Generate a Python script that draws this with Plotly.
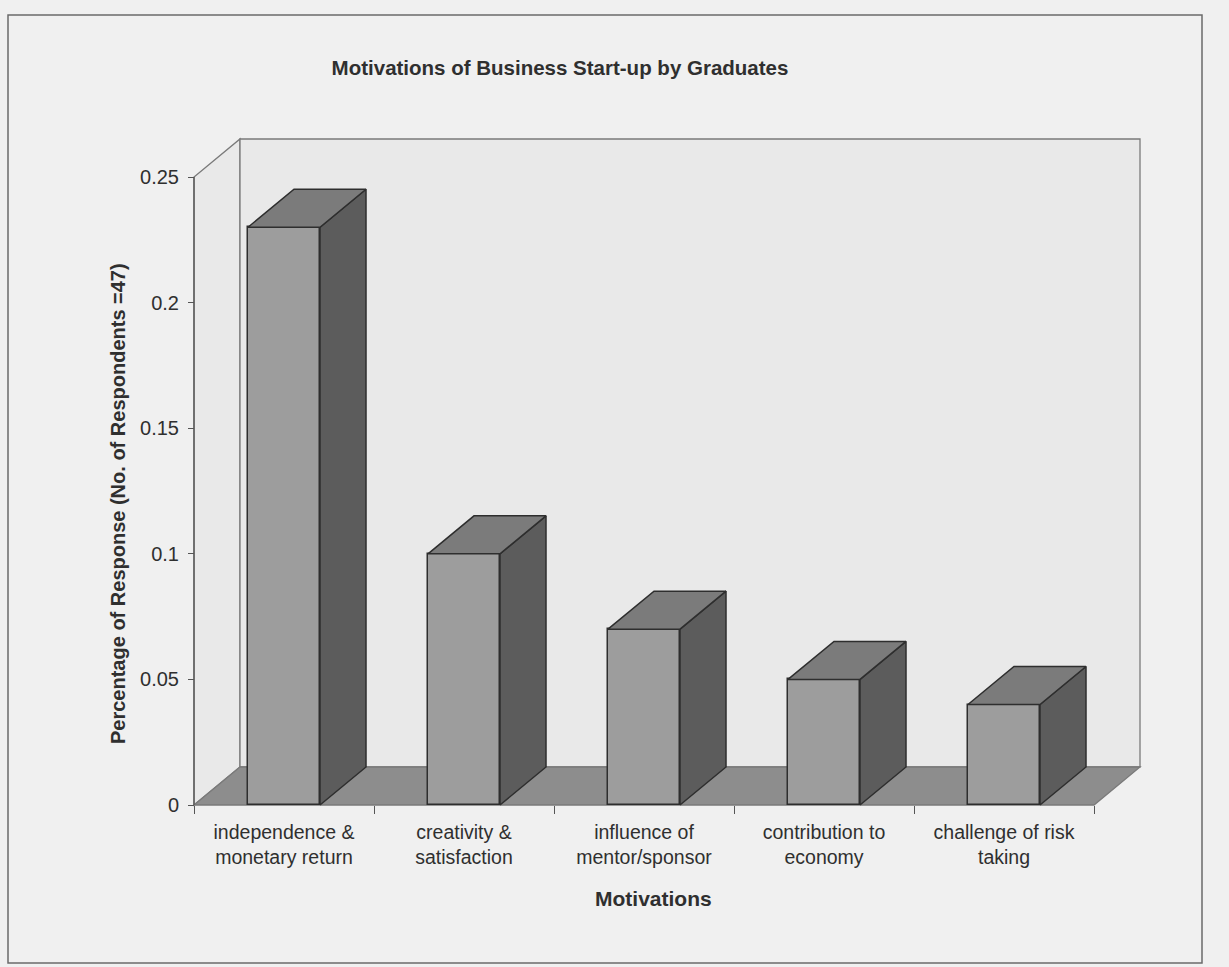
import plotly.graph_objects as go

# ---------------- data ----------------
categories = [
    "independence &<br>monetary return",
    "creativity &<br>satisfaction",
    "influence of<br>mentor/sponsor",
    "contribution to<br>economy",
    "challenge of risk<br>taking",
]
values = [0.23, 0.10, 0.07, 0.05, 0.04]
y_tickvals = [0, 0.05, 0.1, 0.15, 0.2, 0.25]
y_ticktext = ["0", "0.05", "0.1", "0.15", "0.2", "0.25"]

title_text = "Motivations of Business Start-up by Graduates"
x_title = "Motivations"
y_title = "Percentage of Response (No. of Respondents =47)"

# ---------------- geometry (pixels) ----------------
W_PX, H_PX = 1229, 967
L, R, T, B = 170, 1170, 110, 820      # plot area
PX_PER_CAT = 180.0
PX_PER_UNIT = 2512.0
X0_PX = 194                           # pixel of front-left corner
Y0_PX = 805                           # pixel of value 0 (front)
DEPTH_PX_X, DEPTH_PX_Y = 46.0, 38.0
BAR_W = 0.4

n = len(values)
x_min = -0.5 - (X0_PX - L) / PX_PER_CAT
x_max = x_min + (R - L) / PX_PER_CAT
y_min = -(B - Y0_PX) / PX_PER_UNIT
y_max = y_min + (B - T) / PX_PER_UNIT
DX = DEPTH_PX_X / PX_PER_CAT
DY = DEPTH_PX_Y / PX_PER_UNIT

def px2paper_x(px):
    return (px - L) / (R - L)

def px2paper_y(py):
    return (B - py) / (B - T)

# colours
PAPER = "#f0f0f0"
WALL = "#e9e9e9"
FLOOR = "#8d8d8d"
FRONT = "#9d9d9d"
TOP = "#7b7b7b"
SIDE = "#5c5c5c"
EDGE = "#2e2e2e"
WALL_EDGE = "#7a7a7a"
TEXT = "#2f2f2f"
FONT = "Liberation Sans, Arial, sans-serif"

xl, xr = -0.5, n - 0.5
top = y_tickvals[-1]

def path(pts):
    return "M " + " L ".join(f"{x},{y}" for x, y in pts) + " Z"

shapes = [
    # left wall
    dict(type="path", xref="x", yref="y", layer="below",
         path=path([(xl, 0), (xl, top), (xl + DX, top + DY), (xl + DX, DY)]),
         fillcolor=WALL, line=dict(color=WALL_EDGE, width=1.3)),
    # back wall
    dict(type="path", xref="x", yref="y", layer="below",
         path=path([(xl + DX, DY), (xl + DX, top + DY), (xr + DX, top + DY), (xr + DX, DY)]),
         fillcolor=WALL, line=dict(color=WALL_EDGE, width=1.3)),
    # floor
    dict(type="path", xref="x", yref="y", layer="below",
         path=path([(xl, 0), (xl + DX, DY), (xr + DX, DY), (xr, 0)]),
         fillcolor=FLOOR, line=dict(color=WALL_EDGE, width=1.3)),
    # front value axis line
    dict(type="line", xref="x", yref="y", layer="below",
         x0=xl, x1=xl, y0=0, y1=top, line=dict(color="#555555", width=1.3)),
    # outer chart border
    dict(type="rect", xref="paper", yref="paper",
         x0=px2paper_x(8), x1=px2paper_x(1202), y0=px2paper_y(963), y1=px2paper_y(15),
         line=dict(color="#6a6a6a", width=1.5), fillcolor="rgba(0,0,0,0)", layer="below"),
]

fig = go.Figure()

# front faces
fig.add_trace(go.Bar(
    x=list(range(n)), y=values, width=BAR_W, base=0,
    marker=dict(color=FRONT, line=dict(color=EDGE, width=1.5)),
    hoverinfo="skip", showlegend=False,
))

# top and side faces
tx, ty, sx, sy = [], [], [], []
for i, v in enumerate(values):
    a, b = i - BAR_W / 2, i + BAR_W / 2
    tx += [a, a + DX, b + DX, b, a, None]
    ty += [v, v + DY, v + DY, v, v, None]
    sx += [b, b + DX, b + DX, b, b, None]
    sy += [0, DY, v + DY, v, 0, None]

fig.add_trace(go.Scatter(x=sx, y=sy, mode="lines", fill="toself", fillcolor=SIDE,
                         line=dict(color=EDGE, width=1.5), hoverinfo="skip", showlegend=False))
fig.add_trace(go.Scatter(x=tx, y=ty, mode="lines", fill="toself", fillcolor=TOP,
                         line=dict(color=EDGE, width=1.5), hoverinfo="skip", showlegend=False))

boundaries = [i - 0.5 for i in range(n + 1)]

fig.update_layout(
    width=W_PX, height=H_PX,
    margin=dict(l=L, r=W_PX - R, t=T, b=H_PX - B, pad=0),
    paper_bgcolor=PAPER, plot_bgcolor="rgba(0,0,0,0)",
    font=dict(family=FONT, color=TEXT, size=19),
    showlegend=False,
    bargap=0,
    title=dict(text=f"<b>{title_text}</b>", font=dict(size=20.5, color=TEXT, family=FONT),
               xref="paper", x=px2paper_x(560), xanchor="center",
               yref="container", y=1 - 68 / H_PX, yanchor="middle"),
    xaxis=dict(range=[x_min, x_max], showgrid=False, zeroline=False, showline=False,
               tickmode="array", tickvals=list(range(n)), ticktext=categories, ticks="",
               tickfont=dict(size=19.5, color=TEXT, family=FONT),
               anchor="free", position=px2paper_y(Y0_PX),
               minor=dict(tickmode="array", tickvals=boundaries, ticks="outside", ticklen=8,
                          tickcolor="#555555", tickwidth=1, showgrid=False),
               ticklabelstandoff=13),
    yaxis=dict(range=[y_min, y_max], showgrid=False, zeroline=False, showline=False,
               tickmode="array", tickvals=y_tickvals, ticktext=y_ticktext,
               ticks="outside", ticklen=6, tickcolor="#555555", tickwidth=1,
               tickfont=dict(size=20, color=TEXT, family=FONT),
               anchor="free", position=px2paper_x(X0_PX), ticklabelstandoff=5),
    shapes=shapes,
    annotations=[
        dict(text=f"<b>{y_title}</b>", textangle=-90, showarrow=False,
             xref="paper", yref="paper", x=px2paper_x(118), y=px2paper_y(504),
             xanchor="center", yanchor="middle", font=dict(size=20, color=TEXT, family=FONT)),
        dict(text=f"<b>{x_title}</b>", showarrow=False,
             xref="paper", yref="paper", x=px2paper_x(653), y=px2paper_y(898),
             xanchor="center", yanchor="middle", font=dict(size=21, color=TEXT, family=FONT)),
    ],
)

fig.write_html("out.html")
